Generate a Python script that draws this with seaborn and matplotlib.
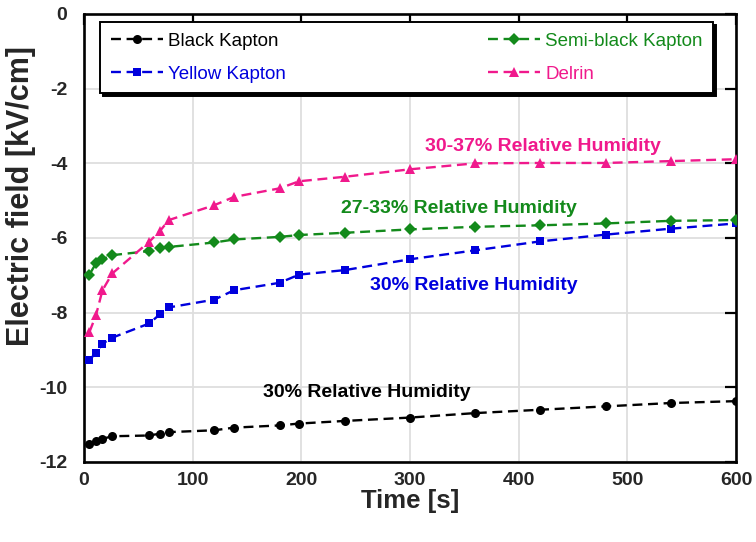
import matplotlib
matplotlib.use("Agg")
import matplotlib.pyplot as plt
import seaborn as sns
import pandas as pd

# ---- data ----
time_s = [5, 11, 17, 26, 60, 70, 78, 120, 138, 180, 198, 240, 300, 360, 420, 480, 540, 600]
black_kapton = [-11.51, -11.44, -11.38, -11.31, -11.29, -11.24, -11.20, -11.15, -11.08, -11.02,
                -10.97, -10.90, -10.81, -10.69, -10.60, -10.51, -10.42, -10.37]
yellow_kapton = [-9.26, -9.08, -8.83, -8.67, -8.29, -8.04, -7.86, -7.65, -7.40, -7.20,
                 -6.98, -6.86, -6.57, -6.33, -6.09, -5.91, -5.75, -5.61]
semiblack_kapton = [-6.98, -6.68, -6.57, -6.46, -6.35, -6.28, -6.24, -6.12, -6.04, -5.97,
                    -5.92, -5.86, -5.77, -5.70, -5.66, -5.61, -5.54, -5.52]
delrin = [-8.52, -8.07, -7.40, -6.95, -6.10, -5.81, -5.52, -5.12, -4.90, -4.67,
          -4.48, -4.36, -4.16, -4.00, -3.99, -3.99, -3.94, -3.89]

series_names = ["Black Kapton", "Yellow Kapton", "Semi-black Kapton", "Delrin"]
series_values = [black_kapton, yellow_kapton, semiblack_kapton, delrin]
x_ticks = [0, 100, 200, 300, 400, 500, 600]
y_ticks = [0, -2, -4, -6, -8, -10, -12]

annotations = [
    ("30-37% Relative Humidity", 422, -3.55),
    ("27-33% Relative Humidity", 345, -5.20),
    ("30% Relative Humidity", 359, -7.27),
    ("30% Relative Humidity", 260, -10.13),
]

# ---- style ----
sns.set_style("white")
plt.rcParams["font.family"] = ["Liberation Sans", "DejaVu Sans"]
plt.rcParams["axes.unicode_minus"] = False

colors = ["#000000", "#0000dd", "#138a1b", "#f0198c"]
markers = ["o", "s", "D", "^"]
msizes = [6.5, 6.2, 6.5, 7.5]

fig = plt.figure(figsize=(7.56, 5.42), dpi=100)
ax = fig.add_axes([84 / 756, 1 - 462 / 542, 652 / 756, 448 / 542])

for name, vals, c, m, ms in zip(series_names, series_values, colors, markers, msizes):
    df = pd.DataFrame({"Time": time_s, "Field": vals})
    sns.lineplot(data=df, x="Time", y="Field", ax=ax, color=c, marker=m, markersize=ms,
                 markeredgewidth=0, linewidth=1.7, linestyle=(0, (4.2, 2.4)), label=name,
                 zorder=3)

ann_colors = ["#f0198c", "#138a1b", "#0000dd", "#000000"]
for (txt, x, y), c in zip(annotations, ann_colors):
    ax.text(x, y, txt, color=c, fontsize=14, fontweight="bold", ha="center", va="center",
            zorder=4)

ax.set_xlim(0, 600)
ax.set_ylim(-12, 0)
ax.set_xticks(x_ticks)
ax.set_yticks(y_ticks)
ax.grid(True, color="#dedede", linewidth=1.3, zorder=0)
ax.set_axisbelow(True)

ax.tick_params(axis="both", direction="in", length=8, width=1.6, color="black",
               top=True, right=True, labelsize=14)
ax.tick_params(axis="x", pad=7)
ax.tick_params(axis="y", pad=12)
for lab in ax.get_xticklabels() + ax.get_yticklabels():
    lab.set_fontweight("bold")

for sp in ax.spines.values():
    sp.set_color("black")
    sp.set_linewidth(1.9)

ax.set_xlabel("Time [s]", fontsize=18.5, fontweight="bold", labelpad=0)
ax.set_ylabel("Electric field [kV/cm]", fontsize=22, fontweight="bold")
ax.yaxis.set_label_coords(-0.073, 0.594)

leg = ax.legend(loc="upper left", bbox_to_anchor=(0.025, 0.5, 0.94, 0.482), mode="expand",
                ncol=2, fontsize=13.5, labelcolor="linecolor", frameon=True, fancybox=False,
                edgecolor="black", framealpha=1, handlelength=2.8, handletextpad=0.28,
                borderaxespad=0, borderpad=0.55, labelspacing=0.85, numpoints=1,
                shadow={"color": "black", "alpha": 1})
leg.get_frame().set_linewidth(1.4)
leg.set_zorder(5)

fig.savefig("out.png", dpi=100)
